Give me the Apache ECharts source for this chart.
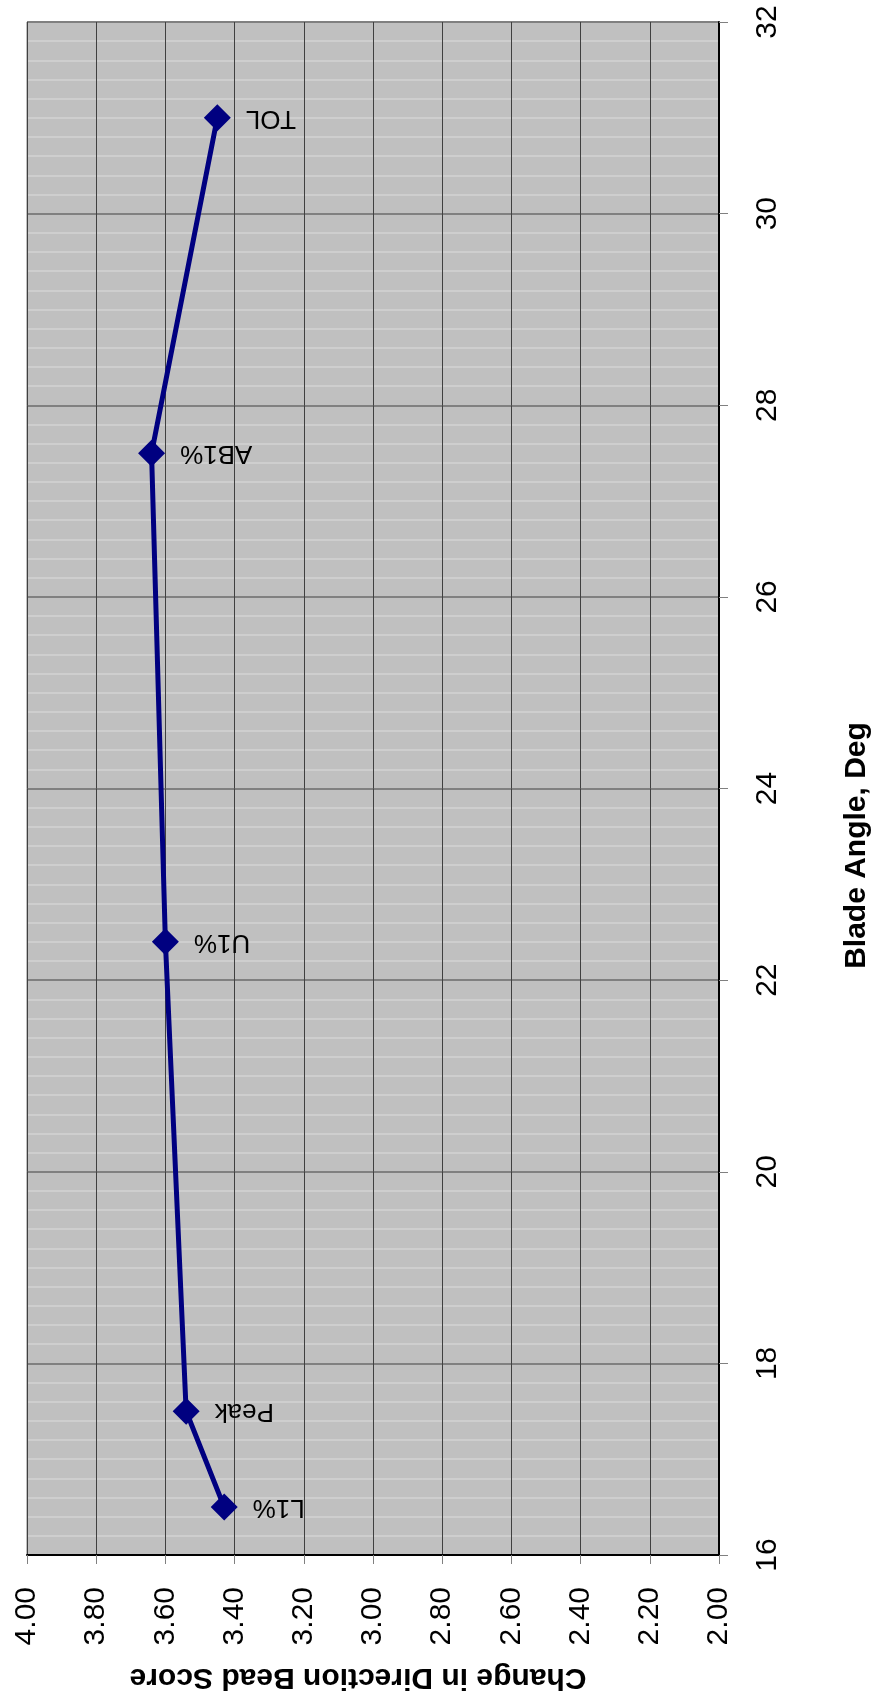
<!DOCTYPE html>
<html>
<head>
<meta charset="utf-8">
<script src="https://cdn.jsdelivr.net/npm/echarts@6/dist/echarts.min.js"></script>
<style>
html,body{margin:0;padding:0;background:#fff;}
#chart{width:871px;height:1695px;}
</style>
</head>
<body>
<div id="chart"></div>
<script>
// Data
const pointNames = ['TOL', 'AB1%', 'U1%', 'Peak', 'L1%'];
const bladeAngle = [31.0, 27.5, 22.4, 17.5, 16.5];
const beadScore = [3.45, 3.64, 3.60, 3.54, 3.43];
const scoreTicks = [2.0, 2.2, 2.4, 2.6, 2.8, 3.0, 3.2, 3.4, 3.6, 3.8, 4.0];
const angleTicks = [16, 18, 20, 22, 24, 26, 28, 30, 32];

const FONT = '"Liberation Sans", Arial, sans-serif';
const seriesData = pointNames.map((n, i) => ({ name: n, value: [beadScore[i], bladeAngle[i]] }));

const chart = echarts.init(document.getElementById('chart'), null, { renderer: 'canvas' });
chart.setOption({
  animation: false,
  backgroundColor: '#ffffff',
  grid: { left: 27, right: 152, top: 22, bottom: 140, containLabel: false, outerBoundsMode: 'none', show: true, backgroundColor: '#c0c0c0', borderColor: '#808080', borderWidth: 1 },
  xAxis: {
    type: 'value',
    position: 'bottom',
    inverse: true,
    min: scoreTicks[0],
    max: scoreTicks[scoreTicks.length - 1],
    interval: 0.2,
    name: 'Change in Direction Bead Score',
    nameLocation: 'middle',
    nameRotate: 180,
    nameGap: 107,
    nameTextStyle: { fontFamily: FONT, fontSize: 30, fontWeight: 'bold', color: '#000', padding: [0, 0, 0, 30] },
    axisLine: { show: true, onZero: false, lineStyle: { color: '#000', width: 2 } },
    axisTick: { show: true, inside: false, length: 9, lineStyle: { color: '#808080', width: 1 } },
    axisLabel: { show: true, rotate: 90, margin: 32, fontFamily: FONT, fontSize: 30, color: '#000', formatter: v => v.toFixed(2) },
    splitLine: { show: true, lineStyle: { color: '#404040', width: 1, type: 'solid' } },
    minorTick: { show: false },
    minorSplitLine: { show: false }
  },
  yAxis: {
    type: 'value',
    position: 'right',
    min: angleTicks[0],
    max: angleTicks[angleTicks.length - 1],
    interval: 2,
    name: 'Blade Angle, Deg',
    nameLocation: 'middle',
    nameRotate: 90,
    nameGap: 123,
    nameTextStyle: { fontFamily: FONT, fontSize: 30, fontWeight: 'bold', color: '#000', padding: [0, 114, 0, 0] },
    axisLine: { show: true, onZero: false, lineStyle: { color: '#000', width: 2 } },
    axisTick: { show: true, inside: false, length: 9, lineStyle: { color: '#808080', width: 1 } },
    axisLabel: { show: true, rotate: 90, margin: 34, fontFamily: FONT, fontSize: 30, color: '#000' },
    splitLine: { show: true, lineStyle: { color: '#808080', width: 2 } },
    minorTick: { show: false, splitNumber: 10 },
    minorSplitLine: { show: true, lineStyle: { color: '#cecece', width: 2 } }
  },
  series: [{
    type: 'line',
    data: seriesData,
    symbol: 'diamond',
    symbolSize: 27,
    itemStyle: { color: '#000080' },
    lineStyle: { color: '#000080', width: 5 },
    label: {
      show: true,
      position: 'right',
      distance: 15,
      rotate: 180,
      align: 'right',
      verticalAlign: 'middle',
      fontFamily: FONT,
      fontSize: 26,
      color: '#000',
      formatter: p => p.name
    },
    z: 5
  }]
});
</script>
</body>
</html>
